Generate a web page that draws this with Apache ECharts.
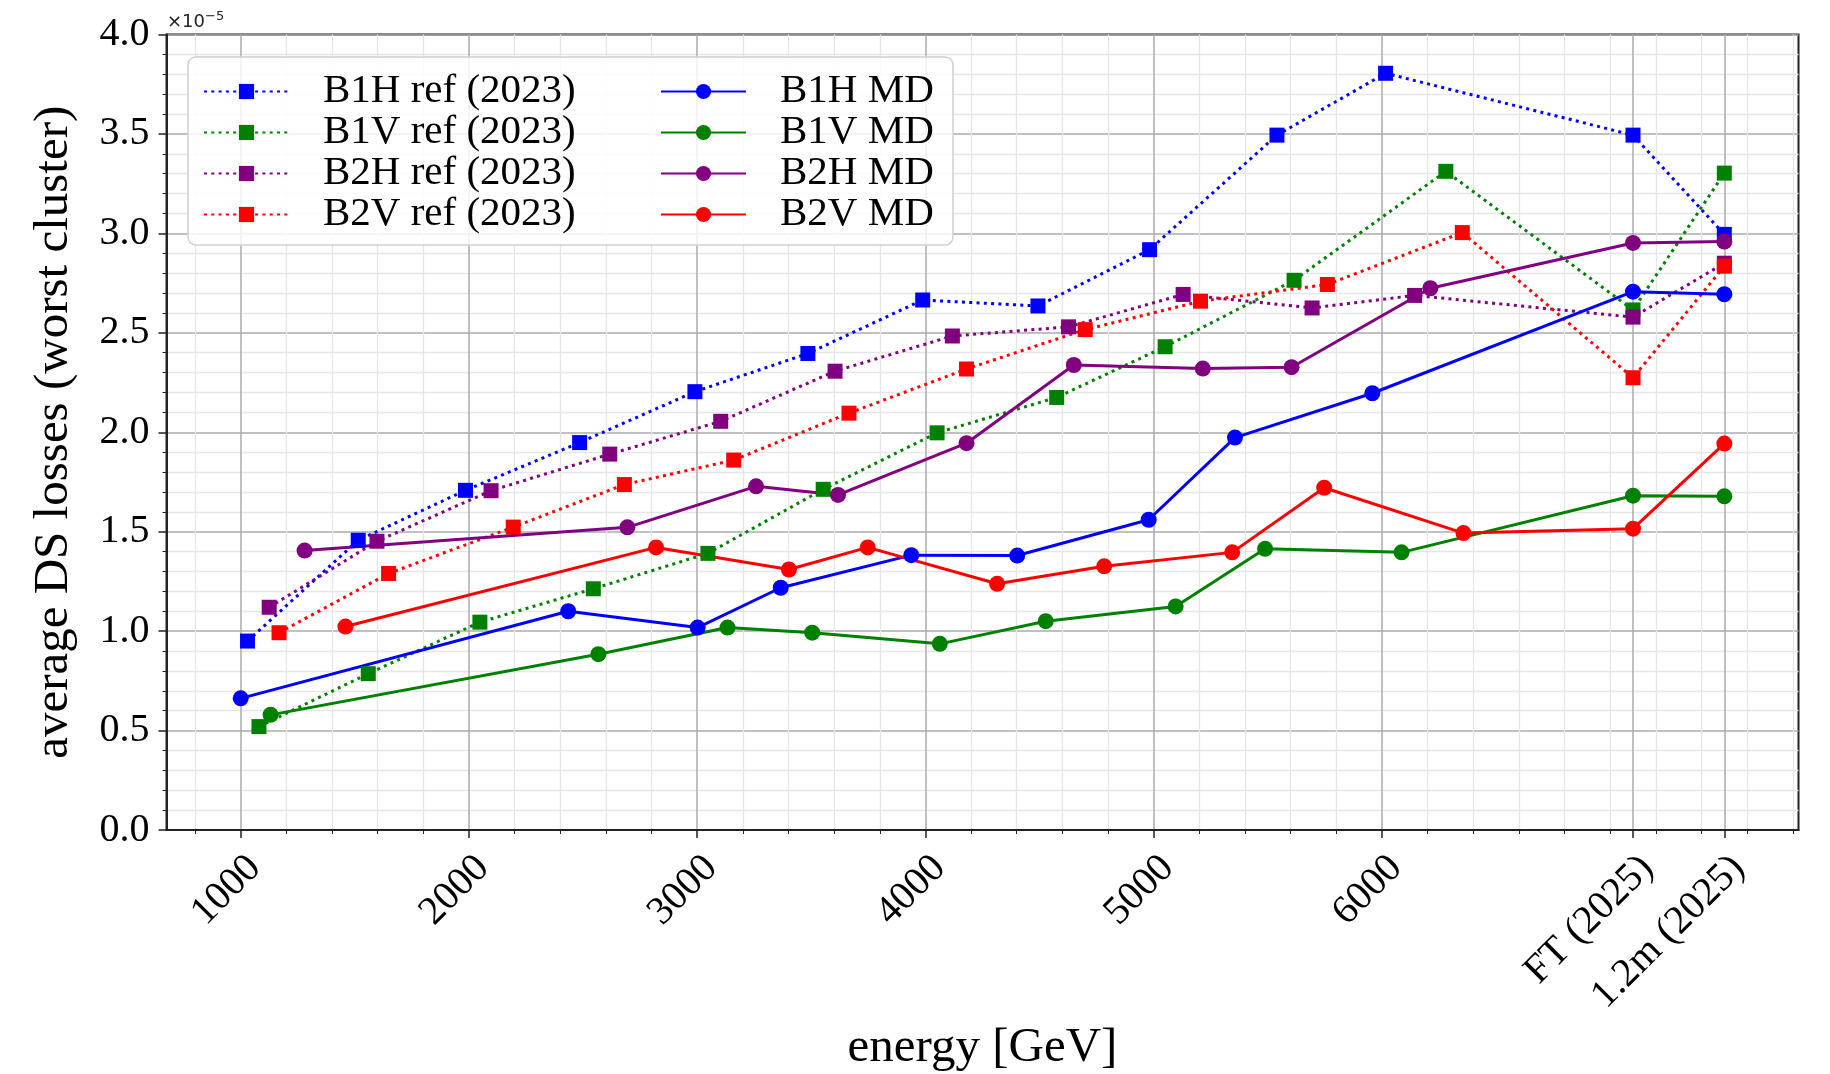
<!DOCTYPE html>
<html>
<head>
<meta charset="utf-8">
<title>Average DS losses vs energy</title>
<script src="https://cdn.jsdelivr.net/npm/echarts@6/dist/echarts.min.js"></script>
<style>
  html, body { margin: 0; padding: 0; background: #fff; }
  #chart { width: 1830px; height: 1074px; }
</style>
</head>
<body>
<div id="chart"></div>
<script>
// Energy tick positions and their labels (the last two are the 2025 machine settings)
const xTickValues = [1000, 2000, 3000, 4000, 5000, 6000, 7100, 7500];
const xTickLabels = ['1000', '2000', '3000', '4000', '5000', '6000', 'FT (2025)', '1.2m (2025)'];

// Reference measurements (2023), losses in units of 1e-5
const b1hRefX = [1030, 1515, 1985, 2485, 2990, 3485, 3988, 4493, 4982, 5540, 6016, 7100, 7500];
const b1hRefY = [0.950, 1.457, 1.708, 1.948, 2.204, 2.396, 2.665, 2.635, 2.918, 3.494, 3.805, 3.494, 2.995];

const b1vRefX = [1080, 1559, 2048, 2545, 3047, 3552, 4051, 4575, 5050, 5615, 6280, 7100, 7500];
const b1vRefY = [0.520, 0.786, 1.045, 1.213, 1.391, 1.713, 1.997, 2.175, 2.430, 2.764, 3.312, 2.615, 3.303];

const b2hRefX = [1125, 1597, 2097, 2617, 3103, 3604, 4118, 4627, 5129, 5694, 6143, 7100, 7500];
const b2hRefY = [1.120, 1.452, 1.706, 1.890, 2.055, 2.307, 2.484, 2.530, 2.693, 2.625, 2.688, 2.579, 2.850];

const b2vRefX = [1168, 1648, 2194, 2681, 3160, 3665, 4180, 4700, 5205, 5761, 6352, 7100, 7500];
const b2vRefY = [0.992, 1.290, 1.523, 1.737, 1.860, 2.096, 2.318, 2.516, 2.659, 2.743, 3.004, 2.274, 2.835];

// MD measurements, losses in units of 1e-5
const b1hMdX = [1000, 2435, 3002, 3366, 3938, 4402, 4978, 5356, 5958, 7100, 7500];
const b1hMdY = [0.662, 1.100, 1.018, 1.218, 1.382, 1.380, 1.560, 1.973, 2.196, 2.707, 2.694];

const b1vMdX = [1131, 2567, 3133, 3504, 4063, 4527, 5096, 5488, 6086, 7100, 7500];
const b1vMdY = [0.579, 0.884, 1.018, 0.992, 0.936, 1.050, 1.124, 1.414, 1.396, 1.681, 1.678];

const b2hMdX = [1280, 2694, 3258, 3617, 4180, 4650, 5215, 5604, 6212, 7100, 7500];
const b2hMdY = [1.405, 1.522, 1.728, 1.685, 1.945, 2.338, 2.320, 2.327, 2.724, 2.952, 2.959];

const b2vMdX = [1459, 2820, 3402, 3747, 4314, 4783, 5344, 5747, 6357, 7100, 7500];
const b2vMdY = [1.023, 1.421, 1.310, 1.421, 1.238, 1.326, 1.396, 1.721, 1.493, 1.515, 1.943];

const refNames = ['B1H ref (2023)', 'B1V ref (2023)', 'B2H ref (2023)', 'B2V ref (2023)'];
const mdNames = ['B1H MD', 'B1V MD', 'B2H MD', 'B2V MD'];
const colors = ['#0000ff', '#008000', '#800080', '#ff0000'];

const FONT = '"Liberation Serif", "Times New Roman", Times, serif';

// minor ticks every 200 GeV, skipping the labelled majors
const xMinorValues = [];
for (let v = 800; v <= 7800; v += 200) {
  if (v % 1000 === 0 && v <= 6000) continue;
  xMinorValues.push(v);
}

function pairs(xs, ys) {
  return xs.map((x, i) => [x, ys[i]]);
}

function lineSeries(name, xs, ys, color, isRef) {
  return {
    name: name,
    type: 'line',
    xAxisIndex: 0,
    data: pairs(xs, ys),
    symbol: isRef ? 'rect' : 'circle',
    symbolSize: isRef ? 15 : 16,
    showSymbol: true,
    lineStyle: { color: color, width: 3, type: isRef ? [3, 4.3] : 'solid' },
    itemStyle: { color: color },
    emphasis: { disabled: true },
    silent: true
  };
}

const series = [
  lineSeries(refNames[0], b1hRefX, b1hRefY, colors[0], true),
  lineSeries(refNames[1], b1vRefX, b1vRefY, colors[1], true),
  lineSeries(refNames[2], b2hRefX, b2hRefY, colors[2], true),
  lineSeries(refNames[3], b2vRefX, b2vRefY, colors[3], true),
  lineSeries(mdNames[0], b1hMdX, b1hMdY, colors[0], false),
  lineSeries(mdNames[1], b1vMdX, b1vMdY, colors[1], false),
  lineSeries(mdNames[2], b2hMdX, b2hMdY, colors[2], false),
  lineSeries(mdNames[3], b2vMdX, b2vMdY, colors[3], false)
];

const legendCommon = {
  orient: 'vertical',
  top: 71,
  padding: 0,
  itemWidth: 85,
  itemHeight: 19,
  itemGap: 0,
  selectedMode: false,
  z: 60,
  textStyle: { fontFamily: FONT, fontSize: 41, color: '#000', lineHeight: 39.5, padding: [0, 0, 0, 29] }
};

const chart = echarts.init(document.getElementById('chart'), null, { renderer: 'canvas' });

chart.setOption({
  animation: false,
  backgroundColor: '#ffffff',
  textStyle: { fontFamily: FONT },
  grid: {
    left: 166.5, right: 31.5, top: 34.5, bottom: 244,
    show: true, borderColor: '#222', borderWidth: 2,
    containLabel: false, outerBoundsMode: 'none'
  },
  xAxis: [
    {
      type: 'value', min: 675, max: 7825,
      position: 'bottom', z: 2,
      axisLine: { show: true, lineStyle: { color: '#222', width: 2 } },
      axisTick: { show: true, length: 8, customValues: xTickValues, lineStyle: { color: '#222', width: 1.5 } },
      axisLabel: {
        customValues: xTickValues,
        rotate: 45, margin: 18,
        align: 'right', verticalAlign: 'top',
        fontFamily: FONT, fontSize: 40, color: '#000',
        formatter: function (v) {
          const i = xTickValues.indexOf(v);
          return i >= 0 ? xTickLabels[i] : '';
        }
      },
      splitLine: { show: true, lineStyle: { color: '#ababab', width: 1.5 } },
      name: 'energy [GeV]',
      nameLocation: 'middle',
      nameGap: 189,
      nameTextStyle: { fontFamily: FONT, fontSize: 49, color: '#000' }
    },
    {
      type: 'value', min: 675, max: 7825,
      position: 'bottom', z: 1,
      axisLine: { show: false },
      axisTick: { show: true, length: 4, customValues: xMinorValues, lineStyle: { color: '#222', width: 1 } },
      axisLabel: { show: false },
      splitLine: { show: true, lineStyle: { color: '#e6e6e6', width: 1.3 } }
    }
  ],
  yAxis: {
    type: 'value', min: 0, max: 4, interval: 0.5,
    axisLine: { show: true, lineStyle: { color: '#222', width: 2 } },
    axisTick: { show: true, length: 8, lineStyle: { color: '#222', width: 1.5 } },
    minorTick: { show: true, splitNumber: 5, length: 4, lineStyle: { color: '#222', width: 1 } },
    splitLine: { show: true, lineStyle: { color: '#ababab', width: 1.5 } },
    minorSplitLine: { show: true, lineStyle: { color: '#e6e6e6', width: 1.3 } },
    axisLabel: {
      margin: 17, fontFamily: FONT, fontSize: 40, color: '#000',
      formatter: function (v) { return v.toFixed(1); }
    },
    name: 'average DS losses (worst cluster)',
    nameLocation: 'middle',
    nameGap: 88,
    nameTextStyle: { fontFamily: FONT, fontSize: 49, color: '#000' }
  },
  legend: [
    Object.assign({}, legendCommon, { left: 203, data: refNames }),
    Object.assign({}, legendCommon, { left: 660, data: mdNames })
  ],
  graphic: [
    {
      type: 'rect', z: 50, silent: true,
      shape: { x: 188, y: 57, width: 765, height: 188, r: 8 },
      style: { fill: 'rgba(255,255,255,0.82)', stroke: '#cfcfcf', lineWidth: 1.5 }
    },
    // axis offset text: ×10^-5
    {
      type: 'text', z: 60, silent: true, x: 167, y: 22.5,
      style: { text: '×10', font: '18px "DejaVu Sans"', fill: '#222', verticalAlign: 'middle', align: 'left' }
    },
    {
      type: 'text', z: 60, silent: true, x: 205, y: 16.5,
      style: { text: '−5', font: '13px "DejaVu Sans"', fill: '#222', verticalAlign: 'middle', align: 'left' }
    }
  ],
  series: series
});
</script>
</body>
</html>
